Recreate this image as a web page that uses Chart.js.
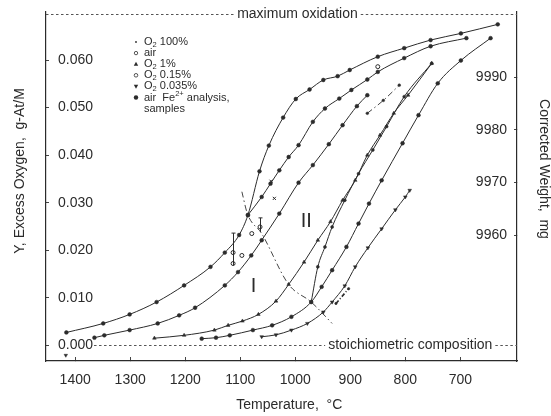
<!DOCTYPE html>
<html>
<head>
<meta charset="utf-8">
<script src="https://cdn.jsdelivr.net/npm/chart.js@4.4.1/dist/chart.umd.min.js"></script>
<style>
  html, body { margin: 0; padding: 0; background: #fff; }
  #chart { display: block; }
</style>
</head>
<body>
<canvas id="chart" width="551" height="416"></canvas>
<script>
// axis ticks
const tempTicks = [1400, 1300, 1200, 1100, 1000, 900, 800, 700];
const oxygenTicks = [0, 0.01, 0.02, 0.03, 0.04, 0.05, 0.06];
const weightTicks = [9960, 9970, 9980, 9990];

// reference levels
const maxOxidation = 0.0697;
const stoichiometric = 0;

// curves: temperature (C) and excess oxygen Y
const topT = [1416, 1349, 1301, 1252, 1202, 1154, 1128, 1102, 1086, 1065, 1048, 1022, 999, 974, 949, 923, 901, 850, 802, 754, 699, 632];
const topY = [0.0027, 0.0046, 0.0065, 0.0091, 0.0126, 0.0165, 0.0195, 0.0232, 0.0274, 0.0366, 0.0420, 0.0479, 0.0518, 0.0538, 0.0558, 0.0566, 0.0579, 0.0607, 0.0625, 0.0642, 0.0656, 0.0675];

const airT = [1365, 1347, 1301, 1250, 1211, 1182, 1128, 1104, 1080, 1061, 1029, 994, 968, 939, 914, 888, 869];
const airY = [0.0016, 0.0021, 0.0032, 0.0046, 0.0063, 0.0079, 0.0126, 0.0154, 0.0189, 0.0221, 0.0277, 0.0342, 0.0379, 0.0423, 0.0463, 0.0503, 0.0526];

const upperT = [1086, 1061, 1045, 1029, 1012, 994, 968, 946, 920, 898, 869, 850, 802, 754, 689];
const upperY = [0.0274, 0.0312, 0.0340, 0.0368, 0.0396, 0.0421, 0.0470, 0.0498, 0.0519, 0.0537, 0.0559, 0.0575, 0.0604, 0.0629, 0.0646];

const o2LowT = [1256, 1202, 1147, 1122, 1096, 1067, 1035, 1012, 984, 959, 936, 914, 891, 869, 846, 821, 795, 752];
const o2LowY = [0.0015, 0.0021, 0.0032, 0.0042, 0.0051, 0.0065, 0.0093, 0.0128, 0.0175, 0.0221, 0.0260, 0.0305, 0.0347, 0.0400, 0.0442, 0.0488, 0.0526, 0.0593];

const o2TraceT = [1170, 1144, 1119, 1077, 1042, 1007, 971, 952, 933, 907, 885, 866, 843, 805, 776, 741, 699, 645];
const o2TraceY = [0.0014, 0.0016, 0.0021, 0.0032, 0.0042, 0.0060, 0.0091, 0.0123, 0.0158, 0.0207, 0.0256, 0.0298, 0.0347, 0.0425, 0.0484, 0.0551, 0.0599, 0.0646];

const steepT = [971, 959, 946, 933, 910, 885, 859, 834, 802, 752];
const steepY = [0.0091, 0.0165, 0.0207, 0.0249, 0.0305, 0.0361, 0.0411, 0.0460, 0.0523, 0.0593];

const lowestT = [1061, 1035, 1007, 978, 949, 933, 910, 891, 868, 843, 818, 800, 792];
const lowestY = [0.0018, 0.0022, 0.0032, 0.0046, 0.0070, 0.0091, 0.0125, 0.0165, 0.0205, 0.0245, 0.0285, 0.0312, 0.0326];

// boundary between regions I and II
const boundaryT = [1097, 1087, 1061, 1012, 971, 933];
const boundaryY = [0.0323, 0.0277, 0.0235, 0.0128, 0.0091, 0.0046];

// short dash-dot runs
const dashT = [869, 840, 811];
const dashY = [0.0488, 0.0515, 0.0547];
const shortDashT = [926, 903];
const shortDashY = [0.0088, 0.0119];

// Fe2+ analysis samples with error bars
const sampleT = [1113, 1113, 1097, 1079, 1064, 850];
const sampleY = [0.0195, 0.0172, 0.0189, 0.0235, 0.0249, 0.0586];
const errT = [1113, 1064];
const errLo = [0.0168, 0.0238];
const errHi = [0.0236, 0.0268];
const crossT = [1038, 1044];
const crossY = [0.0309, 0.0345];
const strayT = [1417];
const strayY = [-0.0021];

const FONT = '"Liberation Sans", Arial, Helvetica, sans-serif';
const INK = '#2b2b2b';

function pts(ts, ys) {
    return ts.map((t, i) => ({ x: t, y: ys[i] }));
}

function curve(ts, ys, pointStyle, extra) {
    return Object.assign({
        data: pts(ts, ys),
        showLine: true,
        borderColor: INK,
        backgroundColor: INK,
        borderWidth: 1,
        pointStyle: pointStyle,
        pointRadius: 1.9,
        pointBorderWidth: 0.5,
        cubicInterpolationMode: 'monotone',
        yAxisID: 'y'
    }, extra || {});
}

// no extra room for end labels, the frame is fixed
function fixPadding(s) {
    s.paddingTop = 0;
    s.paddingBottom = 0;
    s.paddingLeft = 0;
    s.paddingRight = 0;
}

// reference lines, region labels, error bars
const guides = {
    id: 'guides',
    afterDatasetsDraw(chart) {
        const { ctx, chartArea: a, scales: { x, y } } = chart;
        ctx.save();
        ctx.font = '14px ' + FONT;
        ctx.fillStyle = INK;
        ctx.strokeStyle = '#555';
        ctx.lineWidth = 1;
        ctx.textBaseline = 'middle';
        ctx.setLineDash([2.5, 2.5]);

        // maximum oxidation
        const yMax = Math.round(y.getPixelForValue(maxOxidation)) + 0.5;
        const t1 = 'maximum oxidation';
        const w1 = ctx.measureText(t1).width;
        const c1 = x.getPixelForValue(996);
        ctx.beginPath();
        ctx.moveTo(a.left, yMax); ctx.lineTo(c1 - w1 / 2 - 3, yMax);
        ctx.moveTo(c1 + w1 / 2 + 3, yMax); ctx.lineTo(a.right, yMax);
        ctx.stroke();
        ctx.textAlign = 'center';
        ctx.fillText(t1, c1, yMax);

        // stoichiometric composition
        const y0 = Math.round(y.getPixelForValue(stoichiometric)) + 0.5;
        const t2 = 'stoichiometric composition';
        const w2 = ctx.measureText(t2).width;
        const c2 = x.getPixelForValue(791);
        const startX = a.left + 12 + ctx.measureText('0.000').width + 1;
        ctx.beginPath();
        ctx.moveTo(startX, y0); ctx.lineTo(c2 - w2 / 2 - 3, y0);
        ctx.moveTo(c2 + w2 / 2 + 3, y0); ctx.lineTo(a.right, y0);
        ctx.stroke();
        ctx.fillText(t2, c2, y0);

        // error bars of the Fe2+ samples
        ctx.setLineDash([]);
        ctx.strokeStyle = INK;
        errT.forEach((t, i) => {
            const px = Math.round(x.getPixelForValue(t)) + 0.5;
            const lo = y.getPixelForValue(errLo[i]);
            const hi = y.getPixelForValue(errHi[i]);
            ctx.beginPath();
            ctx.moveTo(px, lo); ctx.lineTo(px, hi);
            ctx.moveTo(px - 2, hi); ctx.lineTo(px + 2, hi);
            ctx.stroke();
        });

        // regions
        ctx.font = '20px ' + FONT;
        ctx.fillText('I', x.getPixelForValue(1076), y.getPixelForValue(0.0124));
        ctx.fillText('II', x.getPixelForValue(980), y.getPixelForValue(0.0261));
        ctx.restore();
    }
};

// legend in the upper left corner
const legendItems = [
    { mark: 'tiny', parts: [['O'], ['2', 'sub'], [' 100%']] },
    { mark: 'openSq', parts: [['air']] },
    { mark: 'tri', parts: [['O'], ['2', 'sub'], [' 1%']] },
    { mark: 'ring', parts: [['O'], ['2', 'sub'], [' 0.15%']] },
    { mark: 'invTri', parts: [['O'], ['2', 'sub'], [' 0.035%']] },
    { mark: 'dot', parts: [['air  Fe'], ['2+', 'sup'], [' analysis,']] },
    { mark: null, parts: [['samples']] }
];

function drawMark(ctx, kind, cx, cy) {
    ctx.beginPath();
    if (kind === 'tiny') {
        ctx.arc(cx, cy, 0.9, 0, Math.PI * 2); ctx.fill();
    } else if (kind === 'openSq') {
        ctx.arc(cx, cy, 1.7, 0, Math.PI * 2); ctx.stroke();
    } else if (kind === 'ring') {
        ctx.arc(cx, cy, 1.8, 0, Math.PI * 2); ctx.stroke();
    } else if (kind === 'dot') {
        ctx.arc(cx, cy, 2.2, 0, Math.PI * 2); ctx.fill();
    } else if (kind === 'tri') {
        ctx.moveTo(cx, cy - 2.4); ctx.lineTo(cx + 2.2, cy + 1.6); ctx.lineTo(cx - 2.2, cy + 1.6);
        ctx.closePath(); ctx.fill();
    } else if (kind === 'invTri') {
        ctx.moveTo(cx, cy + 2.4); ctx.lineTo(cx + 2.2, cy - 1.6); ctx.lineTo(cx - 2.2, cy - 1.6);
        ctx.closePath(); ctx.fill();
    }
}

const insetLegend = {
    id: 'insetLegend',
    afterDraw(chart) {
        const { ctx, chartArea: a } = chart;
        ctx.save();
        ctx.fillStyle = INK;
        ctx.strokeStyle = INK;
        ctx.lineWidth = 0.8;
        ctx.textBaseline = 'middle';
        ctx.textAlign = 'left';
        const markX = a.left + 90;
        const textX = a.left + 98;
        legendItems.forEach((item, i) => {
            const cy = a.top + 30 + i * 11.1;
            if (item.mark) drawMark(ctx, item.mark, markX, cy);
            let tx = textX;
            item.parts.forEach(([txt, kind]) => {
                const size = kind ? 7.5 : 11;
                const dy = kind === 'sub' ? 3 : kind === 'sup' ? -3.5 : 0;
                ctx.font = size + 'px ' + FONT;
                ctx.fillText(txt, tx, cy + dy);
                tx += ctx.measureText(txt).width;
            });
        });
        ctx.restore();
    }
};

const tickFont = { family: FONT, size: 14 };
const titleFont = { family: FONT, size: 14 };
const dashDot = [6, 3, 1.5, 3];

new Chart(document.getElementById('chart'), {
    type: 'scatter',
    data: {
        datasets: [
            curve(topT, topY, 'circle'),
            curve(airT, airY, 'circle'),
            curve(upperT, upperY, 'circle'),
            curve(o2LowT, o2LowY, 'triangle', { pointRadius: 2.1 }),
            curve(o2TraceT, o2TraceY, 'circle'),
            curve(steepT, steepY, 'circle', { pointRadius: 1.5 }),
            curve(lowestT, lowestY, 'triangle', { pointRotation: 180, pointRadius: 2.1 }),
            curve(boundaryT, boundaryY, 'circle', { pointRadius: 0, borderDash: dashDot, borderColor: '#444' }),
            curve(dashT, dashY, 'circle', { pointRadius: 1.4, borderDash: dashDot, borderColor: '#444' }),
            curve(shortDashT, shortDashY, 'circle', { pointRadius: 1.2, borderDash: [4, 2, 1, 2], borderWidth: 1.6 }),
            curve(sampleT, sampleY, 'circle', { showLine: false, pointRadius: 2, backgroundColor: '#fff', pointBorderWidth: 1 }),
            curve(crossT, crossY, 'crossRot', { showLine: false, pointRadius: 2.2, pointBorderWidth: 1 }),
            curve(strayT, strayY, 'triangle', { showLine: false, pointRotation: 180, pointRadius: 2 })
        ]
    },
    options: {
        responsive: false,
        animation: false,
        devicePixelRatio: 1,
        layout: { padding: { top: 12, left: 0, right: 0, bottom: 0 } },
        plugins: {
            legend: { display: false },
            tooltip: { enabled: false }
        },
        scales: {
            x: {
                type: 'linear',
                reverse: true,
                min: 597,
                max: 1453,
                afterBuildTicks: s => { s.ticks = tempTicks.map(v => ({ value: v })); },
                afterFit: s => { s.height = 55; fixPadding(s); },
                ticks: { color: INK, font: tickFont, padding: 15, maxRotation: 0, callback: v => String(v) },
                grid: { drawOnChartArea: false, tickLength: -4, color: '#444' },
                border: { color: INK, width: 1.2 },
                title: { display: true, text: '    Temperature,  °C', color: INK, font: titleFont, padding: { top: 0, bottom: 2 } }
            },
            y: {
                type: 'linear',
                position: 'left',
                min: -0.0033,
                max: 0.0701,
                afterBuildTicks: s => { s.ticks = oxygenTicks.map(v => ({ value: v })); },
                afterFit: s => { s.width = 46; fixPadding(s); },
                ticks: { mirror: true, padding: 12, color: INK, font: tickFont, callback: v => v.toFixed(3) },
                grid: { drawOnChartArea: false, tickLength: -3, color: '#444' },
                border: { color: INK, width: 1.2 },
                title: { display: true, text: '        Y, Excess Oxygen,  g-At/M', color: INK, font: titleFont, padding: { top: 12, bottom: 0 } }
            },
            weight: {
                type: 'linear',
                position: 'right',
                min: 9936.1,
                max: 10002.4,
                afterBuildTicks: s => { s.ticks = weightTicks.map(v => ({ value: v })); },
                afterFit: s => { s.width = 34; fixPadding(s); },
                ticks: { mirror: true, padding: -10, color: INK, font: tickFont, callback: v => String(v) },
                grid: { drawOnChartArea: false, tickLength: -3, color: '#444' },
                border: { color: INK, width: 1.2 },
                title: { display: true, text: 'Corrected Weight,  mg         ', color: INK, font: { family: FONT, size: 14, lineHeight: 1 }, padding: { top: 0, bottom: 0 } }
            }
        }
    },
    plugins: [guides, insetLegend]
});
</script>
</body>
</html>
